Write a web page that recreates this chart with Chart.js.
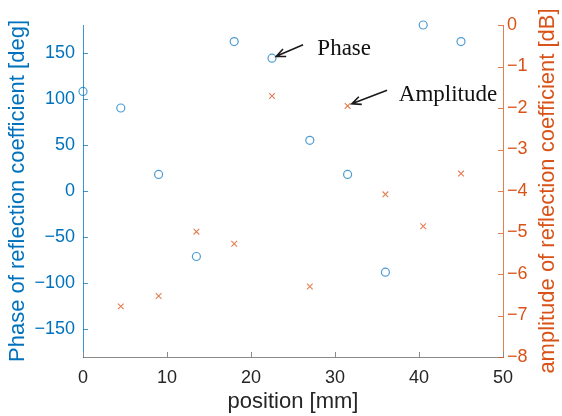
<!DOCTYPE html>
<html>
<head>
<meta charset="utf-8">
<script src="https://cdn.jsdelivr.net/npm/chart.js@4.4.1/dist/chart.umd.min.js"></script>
<style>
    html, body { margin: 0; padding: 0; background: #fff; }
    canvas { display: block; }
</style>
</head>
<body>
<canvas id="chart" width="562" height="416"></canvas>
<script>
// positions along the line [mm]
const positions = [0, 4.5, 9, 13.5, 18, 22.5, 27, 31.5, 36, 40.5, 45];
// phase of reflection coefficient [deg]
const phaseValues = [108, 90, 18, -71, 162, 144, 55, 18, -88, 180, 162];
// amplitude of reflection coefficient [dB] (no amplitude at 0 mm)
const amplitudeValues = [null, -6.78, -6.53, -4.98, -5.27, -1.71, -6.3, -1.95, -4.08, -4.85, -3.58];

const xTicks = [0, 10, 20, 30, 40, 50];
const phaseTicks = [-150, -100, -50, 0, 50, 100, 150];
const ampTicks = [-8, -7, -6, -5, -4, -3, -2, -1, 0];

// callouts, in data units: [tail x, tail y, tip x, tip y], label anchor [x, y]
const phaseNote = { text: 'Phase', axis: 'yPhase', arrow: [26.2, 158.5, 23.0, 146], label: [27.9, 147] };
const ampNote = { text: 'Amplitude', axis: 'yAmp', arrow: [36.2, -1.57, 32.0, -1.9], label: [37.6, -1.83] };

const blue = '#0072BD';
const orange = '#D95319';
const dark = '#262626';
const sans = 'Liberation Sans, Arial, sans-serif';

const minus = (v) => String(v).replace('-', '\u2212');

const fixWidth = (w) => (scale) => { scale.width = w; };
const fixTicks = (list) => (scale) => { scale.ticks = list.map((value) => ({ value })); };

const innerTicks = {
    id: 'innerTicks',
    afterDatasetsDraw(chart) {
        const { ctx, chartArea, scales } = chart;
        const len = 5;
        ctx.save();
        ctx.lineWidth = 1;
        ctx.strokeStyle = '#8a8a8a';
        ctx.beginPath();
        xTicks.forEach((t) => {
            const x = Math.round(scales.x.getPixelForValue(t)) + 0.5;
            ctx.moveTo(x, chartArea.bottom);
            ctx.lineTo(x, chartArea.bottom - len);
        });
        ctx.stroke();
        ctx.strokeStyle = 'rgba(0,114,189,0.75)';
        ctx.beginPath();
        phaseTicks.forEach((t) => {
            const y = Math.round(scales.yPhase.getPixelForValue(t)) + 0.5;
            ctx.moveTo(chartArea.left, y);
            ctx.lineTo(chartArea.left + len, y);
        });
        ctx.stroke();
        ctx.strokeStyle = 'rgba(217,83,25,0.75)';
        ctx.beginPath();
        ampTicks.forEach((t) => {
            const y = Math.round(scales.yAmp.getPixelForValue(t)) + 0.5;
            ctx.moveTo(chartArea.right, y);
            ctx.lineTo(chartArea.right - len, y);
        });
        ctx.stroke();
        ctx.restore();
    },
};

function drawNote(chart, note) {
    const { ctx, scales } = chart;
    const ys = scales[note.axis];
    const [tx, ty, hx, hy] = note.arrow;
    const x0 = scales.x.getPixelForValue(tx), y0 = ys.getPixelForValue(ty);
    const x1 = scales.x.getPixelForValue(hx), y1 = ys.getPixelForValue(hy);
    const ang = Math.atan2(y1 - y0, x1 - x0);
    const head = 10, spread = 0.42;
    ctx.save();
    ctx.strokeStyle = '#1a1a1a';
    ctx.lineWidth = 1.6;
    ctx.beginPath();
    ctx.moveTo(x0, y0);
    ctx.lineTo(x1, y1);
    ctx.moveTo(x1 - head * Math.cos(ang - spread), y1 - head * Math.sin(ang - spread));
    ctx.lineTo(x1, y1);
    ctx.lineTo(x1 - head * Math.cos(ang + spread), y1 - head * Math.sin(ang + spread));
    ctx.stroke();
    ctx.fillStyle = '#111';
    ctx.font = '23px "Liberation Serif", "Times New Roman", serif';
    ctx.textBaseline = 'alphabetic';
    ctx.textAlign = 'left';
    ctx.fillText(note.text, scales.x.getPixelForValue(note.label[0]), ys.getPixelForValue(note.label[1]));
    ctx.restore();
}

const extras = {
    id: 'extras',
    afterDraw(chart) {
        const { ctx, chartArea } = chart;
        drawNote(chart, phaseNote);
        drawNote(chart, ampNote);
        // right axis title reads bottom to top, like the left one
        ctx.save();
        ctx.translate(548, (chartArea.top + chartArea.bottom) / 2);
        ctx.rotate(-Math.PI / 2);
        ctx.fillStyle = orange;
        ctx.font = '22px ' + sans;
        ctx.textAlign = 'center';
        ctx.textBaseline = 'middle';
        ctx.fillText('amplitude of reflection coefficient [dB]', 0, 0);
        ctx.restore();
    },
};

new Chart(document.getElementById('chart'), {
    type: 'scatter',
    data: {
        datasets: [
            {
                label: 'Phase',
                data: positions.map((x, i) => ({ x, y: phaseValues[i] })),
                yAxisID: 'yPhase',
                pointStyle: 'circle',
                pointRadius: 4,
                borderWidth: 1.2,
                borderColor: 'rgba(0,114,189,0.7)',
                backgroundColor: 'rgba(0,0,0,0)',
                clip: false,
            },
            {
                label: 'Amplitude',
                data: positions.map((x, i) => ({ x, y: amplitudeValues[i] })).filter((p) => p.y !== null),
                yAxisID: 'yAmp',
                pointStyle: 'crossRot',
                pointRadius: 4,
                borderWidth: 1.1,
                borderColor: 'rgba(217,83,25,0.75)',
                backgroundColor: 'rgba(0,0,0,0)',
                clip: false,
            },
        ],
    },
    options: {
        responsive: false,
        animation: false,
        events: [],
        layout: { padding: { top: 25, left: 0, right: 0, bottom: 0 } },
        plugins: { legend: { display: false }, tooltip: { enabled: false } },
        scales: {
            x: {
                type: 'linear',
                min: 0,
                max: 50,
                afterFit: (scale) => { scale.height = 59; },
                afterBuildTicks: fixTicks(xTicks),
                grid: { display: true, drawOnChartArea: false, drawTicks: false },
                border: { display: true, color: '#8a8a8a', width: 1 },
                ticks: { color: dark, padding: 10, font: { family: sans, size: 18 }, callback: minus },
                title: { display: true, text: 'position [mm]', color: dark, padding: { top: 0, bottom: 1 }, font: { family: sans, size: 22 } },
            },
            yPhase: {
                type: 'linear',
                position: 'left',
                min: -180,
                max: 180,
                afterFit: fixWidth(83),
                afterBuildTicks: fixTicks(phaseTicks),
                grid: { display: true, drawOnChartArea: false, drawTicks: false },
                border: { display: true, color: 'rgba(0,114,189,0.75)', width: 1 },
                ticks: { color: blue, padding: 8, font: { family: sans, size: 18 }, callback: minus },
                title: { display: true, text: 'Phase of reflection coefficient [deg]', color: blue, padding: { top: 5, bottom: 0 }, font: { family: sans, size: 22 } },
            },
            yAmp: {
                type: 'linear',
                position: 'right',
                min: -8,
                max: 0,
                afterFit: fixWidth(59),
                afterBuildTicks: fixTicks(ampTicks),
                grid: { display: true, drawOnChartArea: false, drawTicks: false },
                border: { display: true, color: 'rgba(217,83,25,0.75)', width: 1 },
                ticks: { color: orange, padding: 4, font: { family: sans, size: 18 }, callback: minus },
            },
        },
    },
    plugins: [innerTicks, extras],
});
</script>
</body>
</html>
